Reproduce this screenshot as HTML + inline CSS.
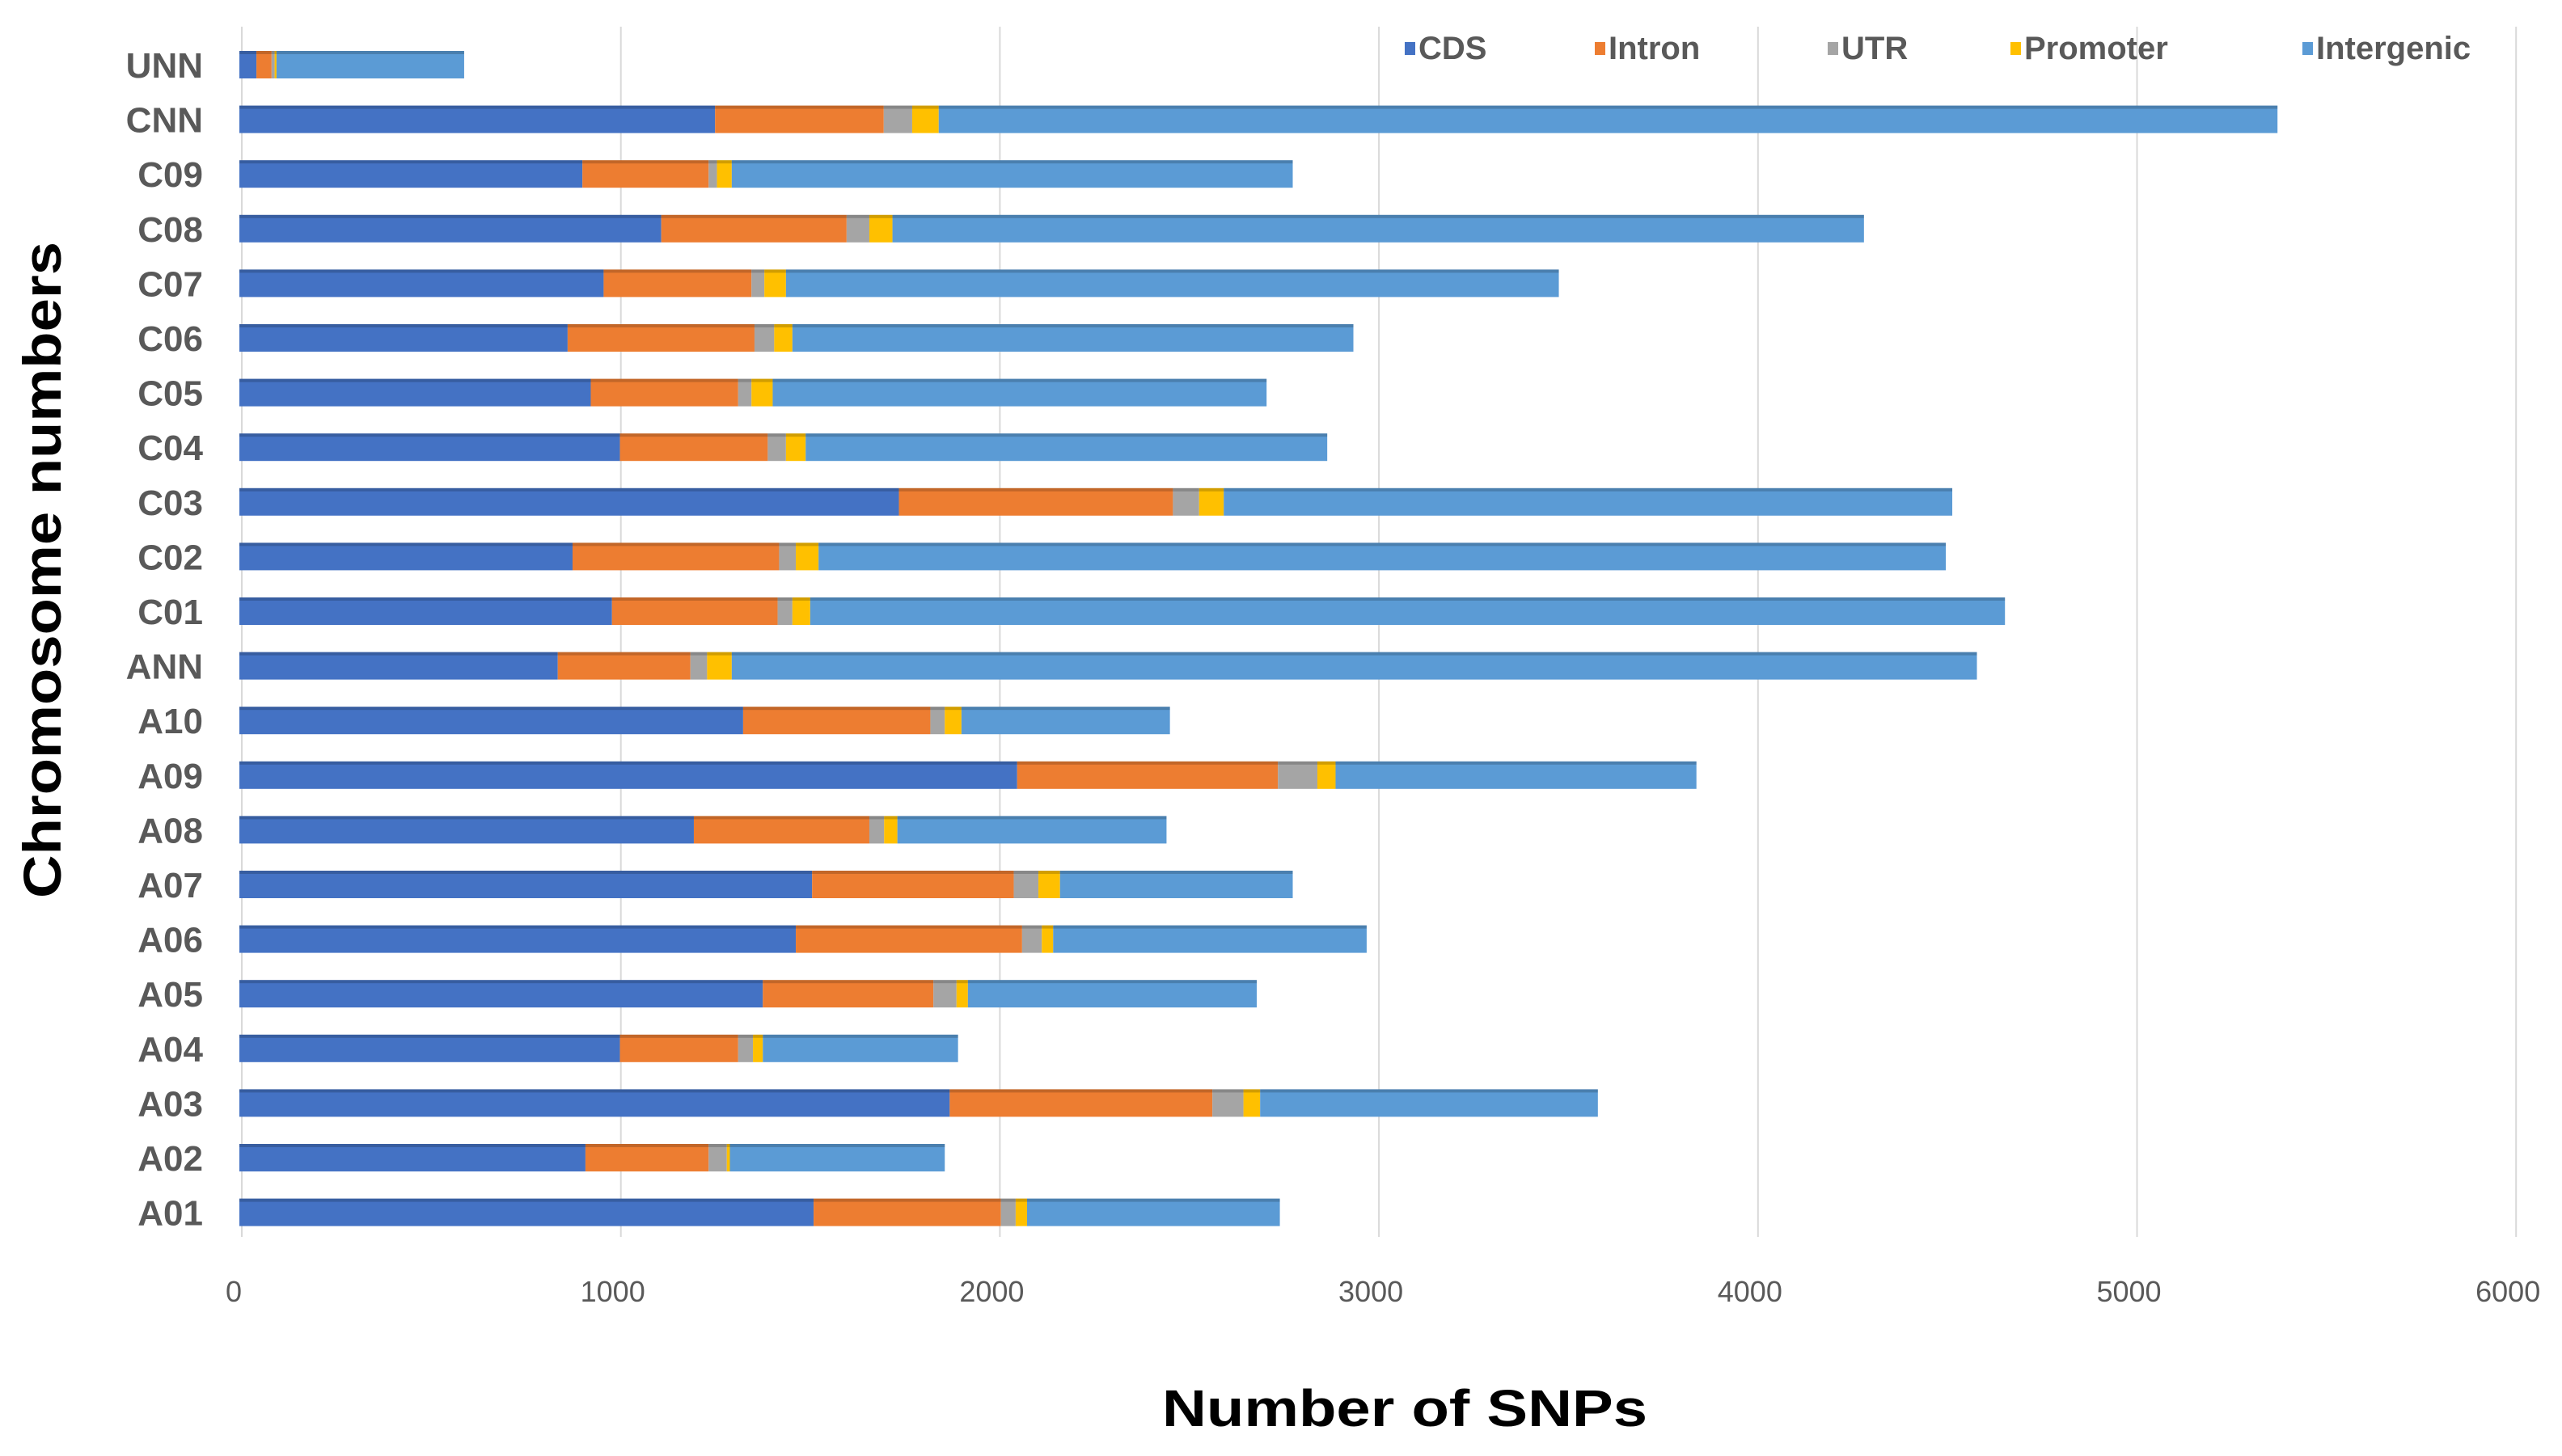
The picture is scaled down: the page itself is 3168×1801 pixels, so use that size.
<!DOCTYPE html>
<html><head><meta charset="utf-8"><style>
html,body{margin:0;padding:0;background:#fff;}
svg{display:block;font-family:"Liberation Sans",sans-serif;}
</style></head><body>
<svg id="chart" width="3168" height="1801" viewBox="0 0 3168 1801" xmlns="http://www.w3.org/2000/svg">
<g id="grid"></g>
<g id="bars"></g>
<g id="ylabels"></g>
<g id="xlabels"></g>
<g id="legend"></g>
<text x="0" y="0" transform="translate(75,705) rotate(-90)" text-anchor="middle" font-size="66" font-weight="bold" fill="#000" textLength="812" lengthAdjust="spacingAndGlyphs">Chromosome numbers</text>
<text x="1737" y="1764" text-anchor="middle" font-size="64" font-weight="bold" fill="#000" textLength="600" lengthAdjust="spacingAndGlyphs">Number of SNPs</text>
</svg>
<script>
const categories = ["UNN","CNN","C09","C08","C07","C06","C05","C04","C03","C02","C01","ANN","A10","A09","A08","A07","A06","A05","A04","A03","A02","A01"];
const seriesNames = ["CDS","Intron","UTR","Promoter","Intergenic"];
const cds        = [45,1255,905,1113,961,866,927,1004,1740,879,983,840,1329,2052,1199,1511,1468,1381,1004,1874,913,1515];
const intron     = [40,445,333,489,390,493,389,390,723,545,437,350,494,688,463,532,597,450,312,693,325,494];
const utr        = [8,75,22,60,34,52,35,48,69,44,39,44,38,104,39,65,52,61,39,82,48,39];
const promoter   = [5,70,39,61,57,48,56,52,65,60,47,65,44,48,35,57,30,30,26,44,8,30];
const intergenic = [495,3532,1480,2563,2039,1480,1303,1376,1922,2974,3152,3285,550,952,710,614,827,762,515,891,567,667];
const xTicks = [0,1000,2000,3000,4000,5000,6000];
const xTickLabels = ["0","1000","2000","3000","4000","5000","6000"];

const NS="http://www.w3.org/2000/svg";
const colors=["#4472C4","#ED7D31","#A5A5A5","#FFC000","#5B9BD5"];
const series=[cds,intron,utr,promoter,intergenic];
const X0=299, XPER=0.4687;
function xs(v){return X0+v*XPER;}
const Y0=80, PITCH=67.6, BH=34;
function yc(i){return Y0+i*PITCH;}
function mk(tag,attrs,parent){const e=document.createElementNS(NS,tag);for(const k in attrs)e.setAttribute(k,attrs[k]);parent.appendChild(e);return e;}

const grid=document.getElementById('grid');
xTicks.forEach((t,i)=>{
  const l=mk('line',{x1:xs(t),x2:xs(t),y1:33,y2:1530,stroke:'#d9d9d9','stroke-width':2},grid);
  
  
  const tx=mk('text',{x:xs(t)-10,y:1610,'text-anchor':'middle','font-size':36,fill:'#595959'},document.getElementById('xlabels'));
  
  
  tx.textContent=xTickLabels[i];
});

const bars=document.getElementById('bars');
categories.forEach((c,i)=>{
  let acc=0;
  series.forEach((s,k)=>{
    const r=mk('rect',{x:xs(acc)-3,y:yc(i)-BH/2,width:Math.max(0,s[i]*XPER),height:BH,fill:colors[k]},bars);
    
    
    acc+=s[i];
  });
  const sh=mk('rect',{x:xs(0)-3,y:yc(i)-BH/2,width:acc*XPER,height:4,fill:'#000','fill-opacity':0.18},bars);
  
  
  const lb=mk('text',{x:251,y:yc(i)+16,'text-anchor':'end','font-size':44,'font-weight':'bold',fill:'#595959'},document.getElementById('ylabels'));
  
  
  lb.textContent=c;
});

const legend=document.getElementById('legend');
const lx=[1737,1972,2260,2486,2847];
seriesNames.forEach((n,k)=>{
  const g=mk('g',{},legend);
  
  
  mk('rect',{x:lx[k],y:52,width:13,height:16,fill:colors[k]},g);
  const t=mk('text',{x:lx[k]+17,y:73,'font-size':40,'font-weight':'bold',fill:'#595959'},g);
  t.textContent=n;
});
</script>
</body></html>
